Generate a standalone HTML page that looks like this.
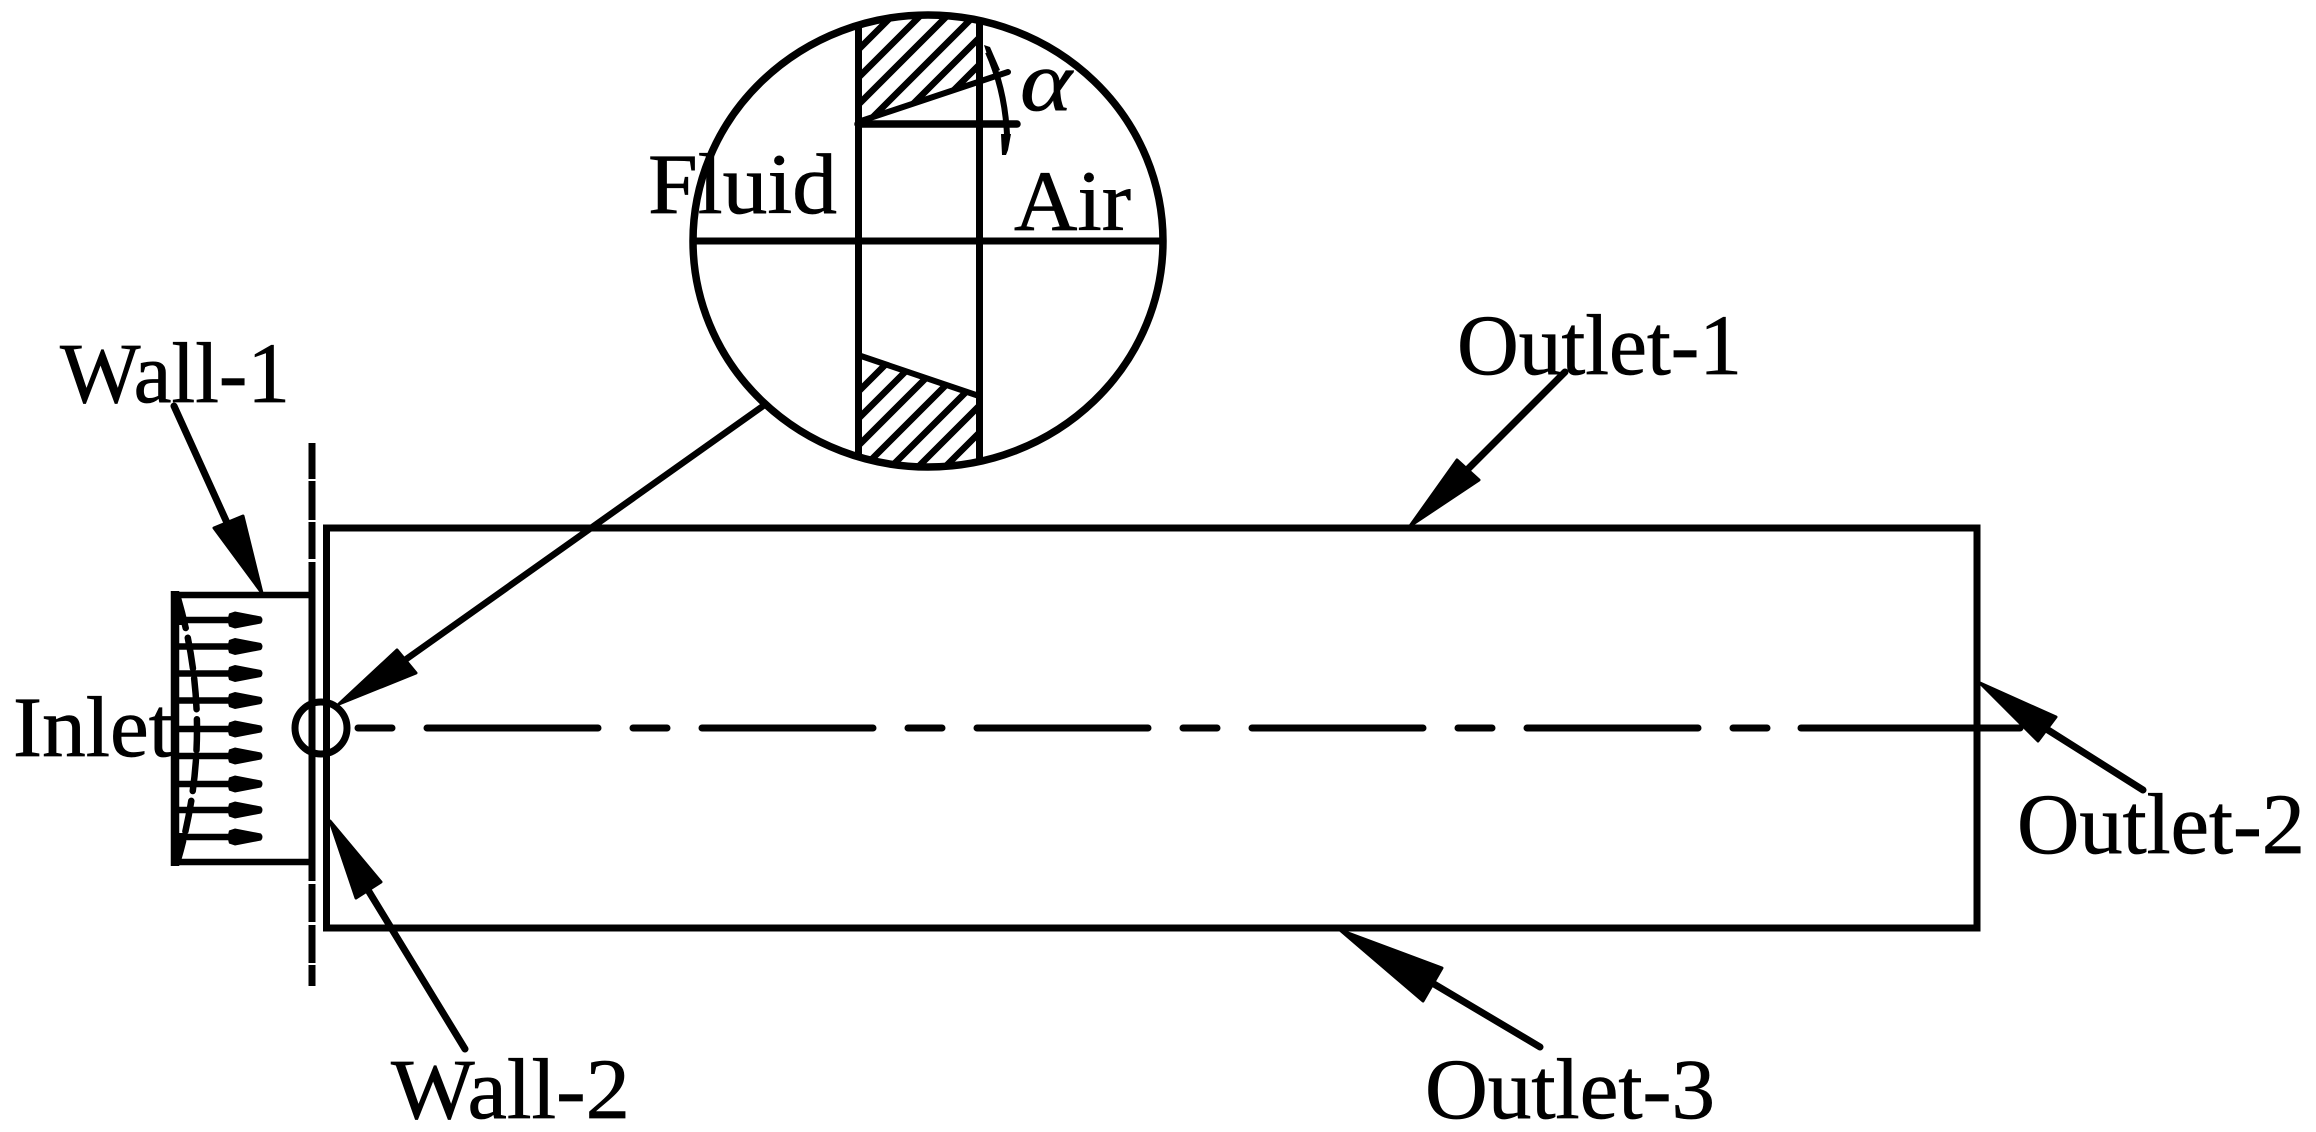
<!DOCTYPE html>
<html>
<head>
<meta charset="utf-8">
<style>
html,body{margin:0;padding:0;background:#fff}
svg{display:block}
text{font-family:"Liberation Serif",serif;font-size:86px;fill:#000;stroke:#000;stroke-width:.7}
</style>
</head>
<body>
<svg width="2316" height="1132" viewBox="0 0 2316 1132" xmlns="http://www.w3.org/2000/svg">
<defs>
<clipPath id="ell"><ellipse cx="928" cy="241" rx="235" ry="226"/></clipPath>
<clipPath id="top"><polygon points="858,0 979,0 979,82 858,122"/></clipPath>
<clipPath id="bot"><polygon points="858,355 979,396 979,480 858,480"/></clipPath>
<path id="h" d="M229 -6.5L235 -8.5L261 -3.5Q264 0 261 3.5L235 8.5L229 6.5Q227 0 229 -6.5Z" fill="#000"/>
</defs>
<rect width="2316" height="1132" fill="#fff"/>

<!-- main rectangle -->
<rect x="326.5" y="528" width="1650.5" height="400" fill="none" stroke="#000" stroke-width="7"/>

<!-- centerline -->
<line x1="358" y1="728" x2="1770" y2="728" stroke="#000" stroke-width="7" stroke-linecap="round" stroke-dasharray="34 35 171 35"/>
<line x1="1801" y1="728" x2="2020" y2="728" stroke="#000" stroke-width="7" stroke-linecap="round"/>

<!-- vertical dash line -->
<g stroke="#000" stroke-width="7" fill="none">
<path d="M312 443V479M312 481V520M312 522V559M312 562V881M312 884V922M312 925V963M312 965V986" stroke-linecap="butt"/>
</g>

<!-- inlet box -->
<path d="M312 595H175V862H312" fill="none" stroke="#000" stroke-width="6.5"/>
<line x1="175" y1="591" x2="175" y2="866" stroke="#000" stroke-width="8.5"/>

<!-- inlet arrows -->
<path d="M175 620H235M175 646.5H235M175 673.5H235M175 700.5H235M175 729H235M175 756H235M175 784H235M175 810H235M175 837H235" stroke="#000" stroke-width="6.5" fill="none"/>
<use href="#h" y="620"/><use href="#h" y="646.5"/><use href="#h" y="673.5"/><use href="#h" y="700.5"/><use href="#h" y="729"/><use href="#h" y="756"/><use href="#h" y="784"/><use href="#h" y="810"/><use href="#h" y="837"/>

<!-- velocity profile curve -->
<path d="M178 598Q216 729 178 860" fill="none" stroke="#000" stroke-width="6.5" stroke-linecap="round" stroke-dasharray="31 10"/>
<polygon points="178,596 186,625 176,625" fill="#000"/>
<polygon points="178,862 186,833 176,833" fill="#000"/>

<!-- small circle -->
<ellipse cx="321" cy="728" rx="26" ry="26" fill="none" stroke="#000" stroke-width="7"/>

<!-- detail circle hatch -->
<g clip-path="url(#ell)">
<g clip-path="url(#top)">
<path d="M850 58l140 -140M850 86l140 -140M850 113l140 -140M850 140l140 -140M850 167l140 -140M850 194l140 -140" stroke="#000" stroke-width="6.5" fill="none"/>
</g>
<g clip-path="url(#bot)">
<path d="M850 400l140 -140M850 427l140 -140M850 454l140 -140M850 481l140 -140M850 508l140 -140M850 535l140 -140M850 562l140 -140M850 589l140 -140M850 616l140 -140" stroke="#000" stroke-width="6.5" fill="none"/>
</g>
<path d="M858.5 0V480M979.5 0V480" stroke="#000" stroke-width="7" fill="none"/>
</g>
<ellipse cx="928" cy="241" rx="235" ry="226" fill="none" stroke="#000" stroke-width="7.5"/>
<line x1="693" y1="241" x2="1163" y2="241" stroke="#000" stroke-width="7"/>

<!-- angle lines -->
<line x1="858" y1="122" x2="1008" y2="72" stroke="#000" stroke-width="6" stroke-linecap="round"/>
<line x1="858" y1="124" x2="1017" y2="124" stroke="#000" stroke-width="7.5" stroke-linecap="round"/>
<line x1="858" y1="355" x2="979" y2="396" stroke="#000" stroke-width="6"/>

<!-- angle arc -->
<path d="M988 52Q1005 90 1007 135" fill="none" stroke="#000" stroke-width="6"/>
<polygon points="984,45 990,47 1000,70 993,73" fill="#000"/>
<polygon points="1001,134 1011,134 1008,150 1006,155 1002,155" fill="#000"/>

<!-- leaders -->
<g stroke="#000" stroke-width="7" fill="none" stroke-linecap="round">
<line x1="763" y1="406" x2="405" y2="660" stroke-width="6.5"/>
<line x1="174" y1="406" x2="228" y2="525"/>
<line x1="465" y1="1049" x2="368" y2="890"/>
<line x1="1565" y1="372" x2="1465" y2="472"/>
<line x1="2143" y1="790" x2="2048" y2="730"/>
<line x1="1540" y1="1047" x2="1434" y2="984"/>
</g>
<g fill="#000" stroke="#000" stroke-width="3" stroke-linejoin="round">
<polygon points="339,704 397,650 416,673"/>
<polygon points="262,593 214,528 243,516"/>
<polygon points="330,821 381,882 356,898"/>
<polygon points="1410,526 1457,460 1479,480"/>
<polygon points="1980,683 2056,717 2038,741"/>
<polygon points="1340,930 1442,968 1423,1001"/>
</g>

<!-- labels -->
<text x="648" y="213" textLength="189" lengthAdjust="spacingAndGlyphs">Fluid</text>
<text x="1014" y="230" textLength="117" lengthAdjust="spacingAndGlyphs">Air</text>
<text x="1020" y="110" font-style="italic" textLength="52" lengthAdjust="spacingAndGlyphs">α</text>
<text x="1457" y="374" textLength="285" lengthAdjust="spacingAndGlyphs">Outlet-1</text>
<text x="60" y="402" textLength="230" lengthAdjust="spacingAndGlyphs">Wall-1</text>
<text x="13" y="756" textLength="160" lengthAdjust="spacingAndGlyphs">Inlet</text>
<text x="2017" y="853" textLength="288" lengthAdjust="spacingAndGlyphs">Outlet-2</text>
<text x="391" y="1118" textLength="239" lengthAdjust="spacingAndGlyphs">Wall-2</text>
<text x="1425" y="1118" textLength="290" lengthAdjust="spacingAndGlyphs">Outlet-3</text>
</svg>
</body>
</html>
